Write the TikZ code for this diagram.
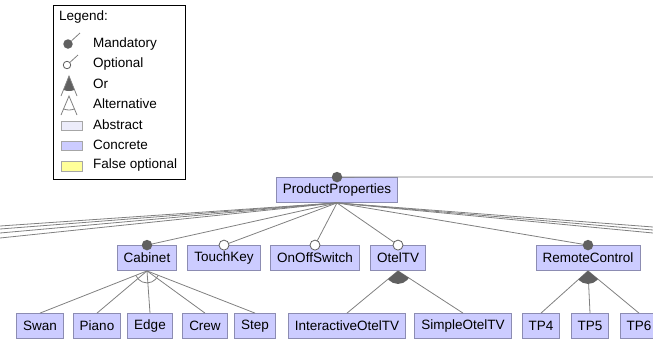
\documentclass[tikz,border=0pt]{standalone}
\usepackage{fontspec}
\setmainfont{Liberation Sans}
\definecolor{concrete}{RGB}{204,204,255}
\definecolor{abstract}{RGB}{236,236,250}
\definecolor{falseopt}{RGB}{255,255,153}
\definecolor{boxline}{RGB}{140,140,178}
\definecolor{edgegray}{RGB}{128,128,128}
\definecolor{dotgray}{RGB}{96,96,96}

\begin{document}
\begin{tikzpicture}[x=1pt, y=-1pt, font=\fontsize{13.5}{16}\selectfont,
	feature/.style={draw=boxline, fill=concrete, line width=0.8pt, inner xsep=6.5pt, inner ysep=0pt, minimum height=25pt},
	conn/.style={draw=edgegray, line width=0.8pt},
	mand/.style={circle, fill=dotgray, inner sep=0pt, minimum size=10.5pt},
	opt/.style={circle, draw=dotgray, fill=white, line width=0.8pt, inner sep=0pt, minimum size=10pt},
	legtext/.style={anchor=west, inner sep=0pt},
	legbox/.style={draw=edgegray!70, line width=0.6pt}]
	\useasboundingbox (0,0) rectangle (653,338);
	\clip (0,0) rectangle (653,338);

	\node[draw=black, line width=0.8pt, minimum width=132pt, minimum height=174pt, inner sep=0pt] (legend) at (119,92) {};
	\node[legtext] (legtitle) at (59,17) {Legend:};
	\node[legtext] (lmand) at (93,44) {Mandatory};
	\node[legtext] (lopt) at (93,64) {Optional};
	\node[legtext] (lor) at (93,84) {Or};
	\node[legtext] (lalt) at (93,104) {Alternative};
	\node[legtext] (labs) at (93,125) {Abstract};
	\node[legtext] (lcon) at (93,145) {Concrete};
	\node[legtext] (lfalse) at (93,165) {False optional};

	\coordinate (mandtip) at (80,33);
	\node[mand, minimum size=9.5pt] (mandsym) at (68,44) {};
	\draw[conn] (mandsym) -- (mandtip);
	\coordinate (opttip) at (78,55);
	\node[opt, minimum size=7.5pt] (optsym) at (67,65) {};
	\draw[conn] (optsym) -- (opttip);
	\coordinate (ortop) at (69,76);
	\coordinate (orleft) at (61,96);
	\coordinate (orright) at (77,96);
	\begin{scope}
		\clip (ortop) -- (orleft) -- (orright) -- cycle;
		\fill[dotgray] (ortop) circle (15pt);
	\end{scope}
	\draw[conn] (orleft) -- (ortop) -- (orright);
	\coordinate (alttop) at (69,96);
	\coordinate (altleft) at (61,115);
	\coordinate (altright) at (77,115);
	\begin{scope}
		\clip (alttop) -- (altleft) -- (altright) -- cycle;
		\draw[conn] (alttop) circle (14pt);
	\end{scope}
	\draw[conn] (altleft) -- (alttop) -- (altright);
	\draw[legbox, fill=abstract] (61,121) rectangle (82,130);
	\draw[legbox, fill=concrete] (61,141) rectangle (82,150);
	\draw[legbox, fill=falseopt] (61,161) rectangle (82,171);

	\node[feature] (root) at (337,190) {ProductProperties};
	\node[feature] (cabinet) at (147,258) {Cabinet};
	\node[feature] (touchkey) at (224,258) {TouchKey};
	\node[feature] (onoff) at (315,258) {OnOffSwitch};
	\node[feature] (oteltv) at (398,258) {OtelTV};
	\node[feature] (remote) at (588,258) {RemoteControl};
	\node[feature] (swan) at (40,326) {Swan};
	\node[feature] (piano) at (97,326) {Piano};
	\node[feature] (edge) at (150,326) {Edge};
	\node[feature] (crew) at (205,326) {Crew};
	\node[feature] (step) at (255,326) {Step};
	\node[feature] (interactive) at (347,326) {InteractiveOtelTV};
	\node[feature] (simple) at (463,326) {SimpleOtelTV};
	\node[feature] (tpfour) at (541,326) {TP4};
	\node[feature] (tpfive) at (590,326) {TP5};
	\node[feature] (tpsix) at (639,326) {TP6};

	\coordinate (parent) at (660,177);
	\coordinate (left1) at (0,226);
	\coordinate (left2) at (0,229);
	\coordinate (left3) at (0,233);
	\coordinate (left4) at (0,238);
	\coordinate (right1) at (653,227);
	\coordinate (right2) at (653,230);
	\coordinate (right3) at (653,233);

	\draw[conn] (root.north) -- (parent);
	\foreach \t in {left1,left2,left3,left4,right1,right2,right3,cabinet.north,touchkey.north,onoff.north,oteltv.north,remote.north}
		\draw[conn] (root.south) -- (\t);
	\foreach \t in {swan,piano,edge,crew,step}
		\draw[conn] (cabinet.south) -- (\t.north);
	\foreach \t in {interactive,simple}
		\draw[conn] (oteltv.south) -- (\t.north);
	\foreach \t in {tpfour,tpfive,tpsix}
		\draw[conn] (remote.south) -- (\t.north);

	\begin{scope}
		\clip (cabinet.south) -- (swan.north) -- (step.north) -- cycle;
		\draw[conn] (cabinet.south) circle (12pt);
	\end{scope}
	\begin{scope}
		\clip (oteltv.south) -- (interactive.north) -- (simple.north) -- cycle;
		\fill[dotgray] (oteltv.south) circle (13pt);
	\end{scope}
	\begin{scope}
		\clip (remote.south) -- (tpfour.north) -- (tpsix.north) -- cycle;
		\fill[dotgray] (remote.south) circle (13pt);
	\end{scope}

	\node[mand] (rootdot) at (root.north) {};
	\node[mand] (cabinetdot) at (cabinet.north) {};
	\node[opt] (touchkeydot) at (touchkey.north) {};
	\node[opt] (onoffdot) at (onoff.north) {};
	\node[opt] (oteltvdot) at (oteltv.north) {};
	\node[mand] (remotedot) at (remote.north) {};
\end{tikzpicture}
\end{document}
